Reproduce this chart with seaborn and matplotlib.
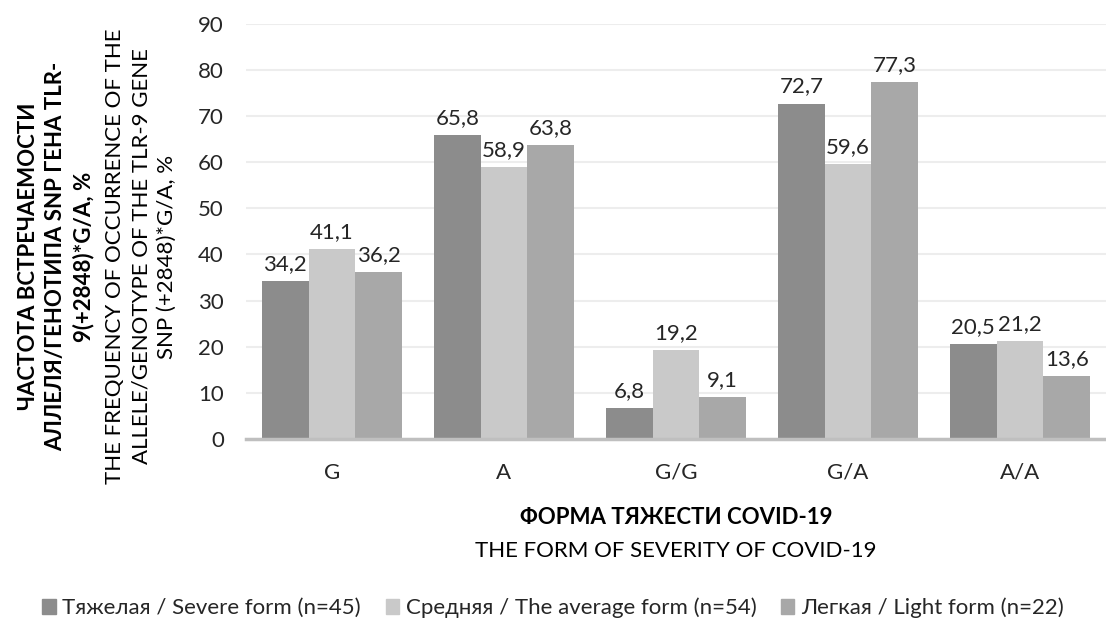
import matplotlib
matplotlib.use("Agg")
import matplotlib.pyplot as plt
import seaborn as sns
import pandas as pd

categories = ["G", "A", "G/G", "G/A", "A/A"]
series = ["Тяжелая / Severe form (n=45)",
          "Средняя / The average form (n=54)",
          "Легкая / Light form (n=22)"]
severe = [34.2, 65.8, 6.8, 72.7, 20.5]
average = [41.1, 58.9, 19.2, 59.6, 21.2]
light = [36.2, 63.8, 9.1, 77.3, 13.6]
yticks = [0, 10, 20, 30, 40, 50, 60, 70, 80, 90]
colors = ["#8c8c8c", "#c9c9c9", "#a8a8a8"]

rows = []
for s, vals in zip(series, [severe, average, light]):
    for c, v in zip(categories, vals):
        rows.append({"cat": c, "series": s, "value": v})
df = pd.DataFrame(rows)

sns.set_theme(style="white")
plt.rcParams["font.family"] = ["Lato", "DejaVu Sans"]
FS = 16

fig = plt.figure(figsize=(11.06, 6.24), dpi=100)
ax = fig.add_axes([0.2224, 0.2965, 0.7776, 0.6655])
sns.barplot(data=df, x="cat", y="value", hue="series", order=categories,
            hue_order=series, palette=colors, width=0.815, saturation=1,
            edgecolor="none", linewidth=0, ax=ax, legend=False, errorbar=None)

for cont in ax.containers:
    ax.bar_label(cont, labels=[f"{v:.1f}".replace(".", ",") for v in cont.datavalues],
                 padding=5, fontsize=FS, color="#262626")

ax.set_ylim(0, 90)
ax.set_yticks(yticks)
ax.set_yticklabels([str(t) for t in yticks], fontsize=FS, color="#262626")
ax.tick_params(axis="x", labelsize=FS, colors="#262626", length=0, pad=17)
ax.tick_params(axis="y", length=0, pad=16)
ax.set_xlabel("")
ax.set_ylabel("")
ax.yaxis.grid(True, color="#ededed", linewidth=1.5)
ax.set_axisbelow(True)
for sp in ["top", "right", "left"]:
    ax.spines[sp].set_visible(False)
ax.spines["bottom"].set_color("#bfbfbf")
ax.spines["bottom"].set_linewidth(2.5)
ax.set_xlim(-0.5, 4.5)

fig.text(0.0506, 0.589, "ЧАСТОТА ВСТРЕЧАЕМОСТИ\nАЛЛЕЛЯ/ГЕНОТИПА SNP ГЕНА TLR-\n9(+2848)*G/A, %",
         rotation=90, ha="center", va="center", multialignment="center",
         fontsize=FS, fontweight="bold", color="#000000", linespacing=1.36)
fig.text(0.1276, 0.589, "THE FREQUENCY OF OCCURRENCE OF THE\nALLELE/GENOTYPE OF THE TLR-9 GENE\nSNP (+2848)*G/A, %",
         rotation=90, ha="center", va="center", multialignment="center",
         fontsize=FS, color="#000000", linespacing=1.36)

fig.text(0.611, 1 - 518 / 624, "ФОРМА ТЯЖЕСТИ COVID-19", ha="center", va="center",
         fontsize=FS, fontweight="bold", color="#000000")
fig.text(0.611, 1 - 551 / 624, "THE FORM OF SEVERITY OF COVID-19", ha="center", va="center",
         fontsize=FS, color="#000000")

handles = [plt.Rectangle((0, 0), 1, 1, color=c) for c in colors]
fig.legend(handles, series, loc="center", bbox_to_anchor=(0.5, 1 - 608 / 624), ncol=3,
           frameon=False, fontsize=FS, handlelength=0.6, handleheight=0.6,
           handletextpad=0.3, columnspacing=1.1)

fig.savefig("out.png", dpi=100)
